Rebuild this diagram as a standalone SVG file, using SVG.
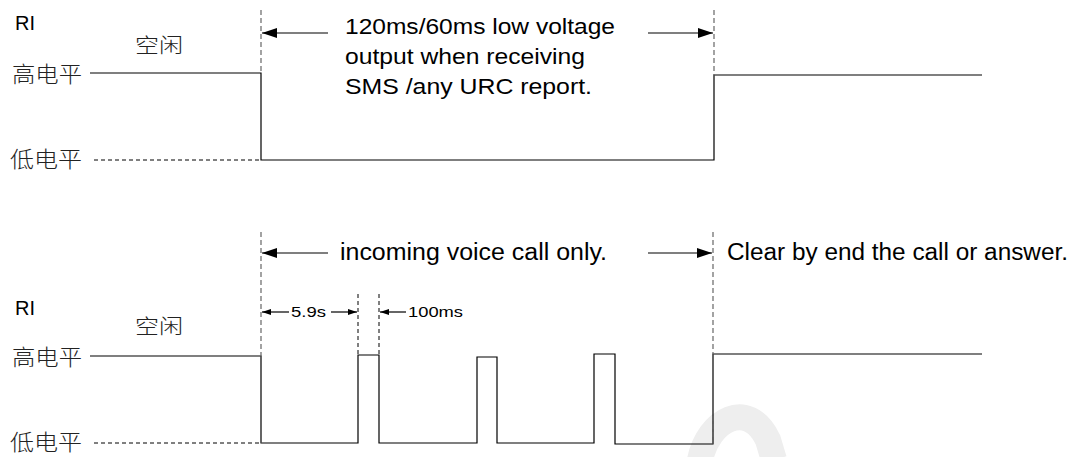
<svg xmlns="http://www.w3.org/2000/svg" width="1079" height="457" viewBox="0 0 1079 457">
<style>
.t{font-family:"Liberation Sans",Arial,sans-serif;fill:#000}
.cn{font-family:"Noto Sans CJK SC","Liberation Sans",sans-serif;fill:#222;font-weight:300}
.sig{fill:none;stroke:#000;stroke-width:1.2}
.dash{fill:none;stroke:#666;stroke-width:1.2;stroke-dasharray:5,3}
.dashk{fill:none;stroke:#000;stroke-width:1;stroke-dasharray:4,3}
.arr{fill:none;stroke:#000;stroke-width:1.2}
</style>
<defs>
<marker id="ah" markerWidth="16" markerHeight="10" refX="15" refY="5" orient="auto" markerUnits="userSpaceOnUse">
<path d="M0,0 L15,5 L0,10 Z" fill="#000"/>
</marker>
<marker id="as" markerWidth="10" markerHeight="6" refX="9" refY="3" orient="auto" markerUnits="userSpaceOnUse">
<path d="M0,0 L9,3 L0,6 Z" fill="#000"/>
</marker>
</defs>
<rect width="1079" height="457" fill="#fff"/>
<path d="M700,460 C708,420 748,398 768,440 L774,460" fill="none" stroke="#eeeeee" stroke-width="26"/>

<g id="top-labels">
<text class="t" x="15" y="30" font-size="20">RI</text>
<text class="cn" x="135" y="53" font-size="20" textLength="48" lengthAdjust="spacingAndGlyphs">空闲</text>
<text class="cn" x="12" y="82" font-size="22" textLength="70" lengthAdjust="spacingAndGlyphs">高电平</text>
<text class="cn" x="10" y="167" font-size="22" textLength="72" lengthAdjust="spacingAndGlyphs">低电平</text>
</g>
<g id="top-signal">
<path class="sig" d="M90,73 H261 V160 H714 V75 H982"/>
<path class="dashk" d="M94,160 H261"/>
</g>
<g id="top-markers">
<path class="dash" d="M261,10 V160"/>
<path class="dash" d="M714,10 V160"/>
</g>
<g id="top-note">
<text class="t" x="345" y="34" font-size="22" textLength="270" lengthAdjust="spacingAndGlyphs">120ms/60ms low voltage</text>
<text class="t" x="345" y="64" font-size="22" textLength="240" lengthAdjust="spacingAndGlyphs">output when receiving</text>
<text class="t" x="345" y="94" font-size="22" textLength="247" lengthAdjust="spacingAndGlyphs">SMS /any URC report.</text>
</g>

<g id="bottom-labels">
<text class="t" x="15" y="315" font-size="20">RI</text>
<text class="cn" x="135" y="334" font-size="20" textLength="48" lengthAdjust="spacingAndGlyphs">空闲</text>
<text class="cn" x="12" y="365" font-size="22" textLength="70" lengthAdjust="spacingAndGlyphs">高电平</text>
<text class="cn" x="10" y="450" font-size="22" textLength="72" lengthAdjust="spacingAndGlyphs">低电平</text>
</g>
<g id="bottom-signal">
<path class="sig" d="M90,356 H261 V443 H358 V355 H379 V443 H477 V357 H497 V443 H594 V354 H615 V444 H713 V354 H982"/>
<path class="dashk" d="M94,443 H261"/>
</g>
<g id="bottom-markers">
<path class="dash" d="M261,232 V443"/>
<path class="dash" d="M713,232 V444"/>
<path class="dashk" d="M358,294 V355"/>
<path class="dashk" d="M379,294 V355"/>
</g>
<g id="bottom-notes">
<text class="t" x="340" y="260" font-size="23" textLength="267" lengthAdjust="spacingAndGlyphs">incoming voice call only.</text>
<text class="t" x="727" y="260" font-size="23" textLength="341" lengthAdjust="spacingAndGlyphs">Clear by end the call or answer.</text>
<text class="t" x="291" y="317" font-size="15" textLength="35" lengthAdjust="spacingAndGlyphs">5.9s</text>
<text class="t" x="408" y="317" font-size="15" textLength="55" lengthAdjust="spacingAndGlyphs">100ms</text>
</g>

<g id="connectors">
<path class="arr" d="M328,33 H262" marker-end="url(#ah)"/>
<path class="arr" d="M648,33 H713" marker-end="url(#ah)"/>
<path class="arr" d="M328,253 H262" marker-end="url(#ah)"/>
<path class="arr" d="M648,253 H712" marker-end="url(#ah)"/>
<path class="arr" d="M289,312 H262" marker-end="url(#as)"/>
<path class="arr" d="M331,312 H357" marker-end="url(#as)"/>
<path class="arr" d="M406,312 H380" marker-end="url(#as)"/>
</g>
</svg>
